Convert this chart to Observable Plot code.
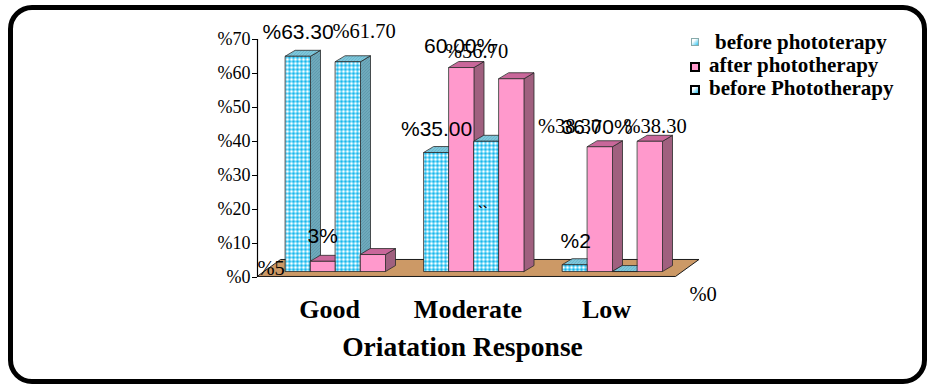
<!DOCTYPE html>
<html><head><meta charset="utf-8">
<script src="https://cdn.jsdelivr.net/npm/d3@7"></script>
<script src="https://cdn.jsdelivr.net/npm/@observablehq/plot@0.6"></script>
<style>
body{margin:0;background:#fff;}
#wrap{position:relative;width:935px;height:391px;overflow:hidden;font-family:"Liberation Serif","Times New Roman",serif;}
#frame{position:absolute;left:8px;top:5px;width:919px;height:379px;box-sizing:border-box;border:5px solid #000;border-radius:24px;}
#chart{position:absolute;left:0;top:0;}
.lg{position:absolute;font-weight:bold;font-size:21px;line-height:21px;white-space:nowrap;color:#000;}
.sw{position:absolute;box-sizing:border-box;}
</style></head><body>
<div id="wrap"><div id="frame"></div><div id="chart"></div><div id="legend"></div></div>
<script>
// ---- data ----
const categories = ["Good", "Moderate", "Low"];
const legendNames = ["before phototerapy", "after phototherapy", "before Phototherapy"];
const before1 = [63.3, 35.0, 2];
const after1 = [3, 60.0, 36.7];
const before2 = [61.7, 38.3, 0];
const after2 = [5, 56.7, 38.3];
const before1Labels = ["%63.30", "%35.00", "%2"];
const after1Labels = ["3%", "60.00%", "36.70%"];
const before2Labels = ["%61.70", "%38.30", "%0"];
const after2Labels = ["%5", "%56.70", "%38.30"];
const yTicks = [0, 10, 20, 30, 40, 50, 60, 70];
const xTitle = "Oriatation Response";
const strayMark = "``";

// ---- layout / style ----
const serif = "'Liberation Serif','Times New Roman',serif";
const sans = "'Liberation Sans',Arial,sans-serif";
const groupStep = 5.54, groupOffset = 1.12;   // in bar-width units
const depthX = 0.4, depthY = 1.76, lift = 1.76;
const floorFront = 0.3, floorBack = 5.3, floorDX = 0.94, floorRight = 16.72;
const labelDx = [[-23, -23, -2], [-3, -25, -26], [-3, 64, 77], [-103, -54, -14]];
const labelDy = [[-17, -17, -17], [-18, -15, -13], [-24, -8, 29], [20, -21, -8]];
const labelFont = [sans, sans, serif, serif];
const labelSize = [21, 21, 20.5, 20.5];
const fills = [
  {front: "url(#cyanFront)", side: "url(#cyanSide)", top: "url(#cyanTop)"},
  {front: "#ff99cc", side: "#a0607f", top: "#c9679a"},
  {front: "url(#cyanFront)", side: "url(#cyanSide)", top: "url(#cyanTop)"},
  {front: "#ff99cc", side: "#a0607f", top: "#c9679a"}
];

const seriesValues = [before1, after1, before2, after2];
const seriesLabels = [before1Labels, after1Labels, before2Labels, after2Labels];

const bars = [];
categories.forEach((c, i) => seriesValues.forEach((vals, j) => {
  const L = groupOffset + i * groupStep + j, R = L + 1, v = vals[i];
  bars.push({cat: c, i, j, L, R, v, label: seriesLabels[j][i]});
}));
function facePoints(b, face) {
  const t = b.v + lift;
  let pts;
  if (face === "front") pts = [[b.L, lift], [b.R, lift], [b.R, t], [b.L, t]];
  else if (face === "side") pts = [[b.R, lift], [b.R + depthX, lift + depthY], [b.R + depthX, t + depthY], [b.R, t]];
  else pts = [[b.L, t], [b.R, t], [b.R + depthX, t + depthY], [b.L + depthX, t + depthY]];
  return pts.map(([x, y]) => ({x, y, id: b.cat + b.j + face}));
}
const faceMarks = [];
for (const face of ["side", "top", "front"]) {
  for (let j = 0; j < 4; j++) {
    const pts = bars.filter(b => b.j === j).flatMap(b => facePoints(b, face));
    faceMarks.push(Plot.line(pts, {x: "x", y: "y", z: "id", curve: "linear-closed",
      fill: fills[j][face], stroke: "#2a2a2a", strokeWidth: 0.8, strokeLinejoin: "miter"}));
  }
}
const floorPts = [
  {x: 0, y: floorFront}, {x: floorRight, y: floorFront},
  {x: floorRight + floorDX, y: floorBack}, {x: floorDX, y: floorBack}
];
const labelMarks = bars.map(b => Plot.text([b], {
  x: "L", y: d => d.v + lift, text: "label", textAnchor: "start", lineAnchor: "bottom",
  dx: labelDx[b.j][b.i], dy: labelDy[b.j][b.i], fontFamily: labelFont[b.j], fontSize: labelSize[b.j], fill: "#000"
}));
const modB2 = bars.find(b => b.i === 1 && b.j === 2);

const chart = Plot.plot({
  width: 935, height: 391,
  marginLeft: 257, marginRight: 178, marginTop: 39, marginBottom: 114,
  x: {domain: [0, 20], axis: null},
  y: {domain: [0, 70], axis: null},
  style: {background: "transparent", fontFamily: serif, color: "#000", overflow: "visible"},
  marks: [
    Plot.line(floorPts, {x: "x", y: "y", curve: "linear-closed", fill: "#cc9966", stroke: "#1a1a1a", strokeWidth: 1}),
    Plot.axisY({ticks: yTicks, tickFormat: d => "%" + d, tickSize: 5, tickPadding: 2, fontSize: 18, fontFamily: serif, label: null, stroke: "#000"}),
    Plot.ruleX([0], {stroke: "#000", strokeWidth: 1.2}),
    ...faceMarks,
    ...labelMarks,
    Plot.text([strayMark], {x: modB2.L, y: modB2.v + lift, dx: 4, dy: 76, textAnchor: "start", lineAnchor: "bottom", fontFamily: sans, fontSize: 14, fontWeight: "bold"}),
    Plot.text(categories, {x: (d, i) => groupOffset + i * groupStep + 2, y: 0, dx: -6, dy: 40, lineAnchor: "bottom", fontSize: 26, fontWeight: "bold", fontFamily: serif}),
    Plot.text([xTitle], {frameAnchor: "bottom", dx: -45, dy: 78, lineAnchor: "bottom", fontSize: 27.5, fontWeight: "bold", fontFamily: serif})
  ]
});

// patterns
const defs = d3.select(chart).insert("defs", ":first-child");
const p1 = defs.append("pattern").attr("id", "cyanFront").attr("patternUnits", "userSpaceOnUse").attr("width", 4).attr("height", 4);
p1.append("rect").attr("width", 4).attr("height", 4).attr("fill", "#ffffff");
p1.append("rect").attr("width", 2).attr("height", 4).attr("fill", "#74d8f6");
p1.append("rect").attr("width", 4).attr("height", 2).attr("fill", "#74d8f6");
p1.append("rect").attr("width", 2).attr("height", 2).attr("fill", "#19b6ec");
const p2 = defs.append("pattern").attr("id", "cyanSide").attr("patternUnits", "userSpaceOnUse").attr("width", 3).attr("height", 3);
p2.append("rect").attr("width", 3).attr("height", 3).attr("fill", "#7fb7c8");
p2.append("path").attr("d", "M0,3L3,0").attr("stroke", "#3f7f93").attr("stroke-width", 1);
const p3 = defs.append("pattern").attr("id", "cyanTop").attr("patternUnits", "userSpaceOnUse").attr("width", 3).attr("height", 3);
p3.append("rect").attr("width", 3).attr("height", 3).attr("fill", "#8fd3e6");
p3.append("path").attr("d", "M0,3L3,0").attr("stroke", "#4a9db6").attr("stroke-width", 1);

document.getElementById("chart").appendChild(chart);

// legend
const legend = document.getElementById("legend");
const rows = [
  {top: 31.5, left: 715, sw: {left: 691, top: 38, size: 8, border: "1px solid #8aa", bg: "linear-gradient(135deg,#fff 30%,#2fc3f0)"}},
  {top: 54.5, left: 709, sw: {left: 690, top: 62, size: 10, border: "2.5px solid #000", bg: "#ff99cc"}},
  {top: 77.5, left: 709, sw: {left: 690, top: 85, size: 10, border: "2.5px solid #000", bg: "linear-gradient(135deg,#fff 30%,#2fc3f0)"}}
];
legendNames.forEach((name, k) => {
  const r = rows[k];
  const sw = document.createElement("div");
  sw.className = "sw";
  Object.assign(sw.style, {left: r.sw.left + "px", top: r.sw.top + "px", width: r.sw.size + "px", height: r.sw.size + "px", border: r.sw.border, background: r.sw.bg});
  legend.appendChild(sw);
  const t = document.createElement("div");
  t.className = "lg";
  t.style.left = r.left + "px"; t.style.top = r.top + "px";
  t.textContent = name;
  legend.appendChild(t);
});
</script>
</body></html>
